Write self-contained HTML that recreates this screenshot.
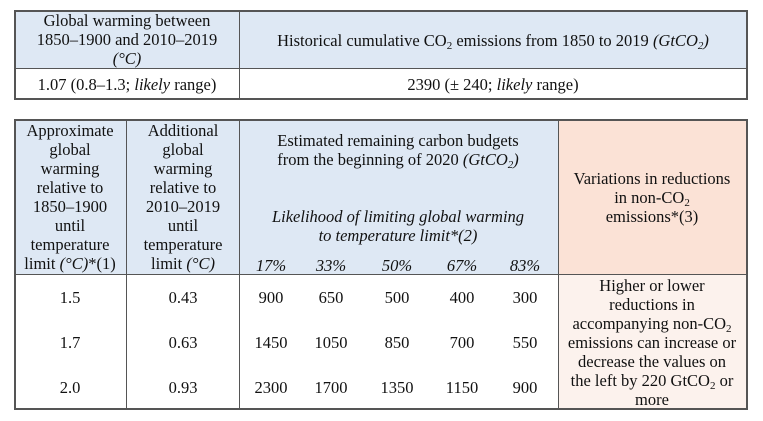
<!DOCTYPE html>
<html><head><meta charset="utf-8"><style>
body{margin:0;width:763px;height:421px;background:#fff;position:relative;font-family:"Liberation Serif",serif;font-size:16.5px;color:#111;overflow:hidden}
.b{position:absolute;box-sizing:border-box}
.t{position:absolute;text-align:center;line-height:19px;white-space:nowrap;transform:translateX(-50%)}
i{font-style:italic}
sub{font-size:11px;line-height:0;vertical-align:-3px}
.l{position:absolute;background:#555}
</style></head><body>
<div class="b" style="left:14px;top:10px;width:225px;height:58px;background:#dee8f4"></div>
<div class="b" style="left:239px;top:10px;width:508px;height:58px;background:#dee8f4"></div>
<div class="l" style="left:14px;top:10px;width:733px;height:1.5px"></div>
<div class="l" style="left:14px;top:68px;width:733px;height:1px"></div>
<div class="l" style="left:14px;top:98px;width:733px;height:1.5px"></div>
<div class="l" style="left:14px;top:10px;width:1.5px;height:90px"></div>
<div class="l" style="left:239px;top:10px;width:1px;height:90px"></div>
<div class="l" style="left:746px;top:10px;width:1.5px;height:90px"></div>
<div class="t" style="left:127px;top:11px">Global warming between<br>1850–1900 and 2010–2019<br><i>(°C)</i></div>
<div class="t" style="left:493px;top:31px">Historical cumulative CO<sub>2</sub> emissions from 1850 to 2019 <i>(GtCO<sub>2</sub>)</i></div>
<div class="t" style="left:127px;top:75px">1.07 (0.8–1.3; <i>likely</i> range)</div>
<div class="t" style="left:493px;top:75px">2390 (± 240; <i>likely</i> range)</div>

<div class="b" style="left:14px;top:119px;width:544px;height:155px;background:#dee8f4"></div>
<div class="b" style="left:558px;top:119px;width:189px;height:155px;background:#fbe2d6"></div>
<div class="b" style="left:558px;top:274px;width:189px;height:135px;background:#fcf2ed"></div>
<div class="l" style="left:14px;top:119px;width:733px;height:1.5px"></div>
<div class="l" style="left:14px;top:274px;width:733px;height:1px"></div>
<div class="l" style="left:14px;top:408px;width:733px;height:1.5px"></div>
<div class="l" style="left:14px;top:119px;width:1.5px;height:291px"></div>
<div class="l" style="left:126px;top:119px;width:1px;height:291px"></div>
<div class="l" style="left:239px;top:119px;width:1px;height:291px"></div>
<div class="l" style="left:558px;top:119px;width:1px;height:291px"></div>
<div class="l" style="left:746px;top:119px;width:1.5px;height:291px"></div>

<div class="t" style="left:70px;top:121px">Approximate<br>global<br>warming<br>relative to<br>1850–1900<br>until<br>temperature<br>limit <i>(°C)</i>*(1)</div>
<div class="t" style="left:183px;top:121px">Additional<br>global<br>warming<br>relative to<br>2010–2019<br>until<br>temperature<br>limit <i>(°C)</i></div>
<div class="t" style="left:398px;top:131px">Estimated remaining carbon budgets<br>from the beginning of 2020 <i>(GtCO<sub>2</sub>)</i></div>
<div class="t" style="left:398px;top:207px"><i>Likelihood of limiting global warming<br>to temperature limit*(2)</i></div>
<div class="t" style="left:652px;top:169px">Variations in reductions<br>in non-CO<sub>2</sub><br>emissions*(3)</div>
<div class="t" style="left:652px;top:276px">Higher or lower<br>reductions in<br>accompanying non-CO<sub>2</sub><br>emissions can increase or<br>decrease the values on<br>the left by 220 GtCO<sub>2</sub> or<br>more</div>
<div id="cells"></div>
<script>
const pcts=["17%","33%","50%","67%","83%"];
const pctX=[271,331,397,462,525];
const temps=["1.5","1.7","2.0"];
const addl=["0.43","0.63","0.93"];
const budgets=[[900,650,500,400,300],[1450,1050,850,700,550],[2300,1700,1350,1150,900]];
const rowY=[288,333,378];
const c=document.getElementById('cells');
function mk(txt,x,y,it){const d=document.createElement('div');d.className='t';d.style.left=x+'px';d.style.top=y+'px';d.innerHTML=it?'<i>'+txt+'</i>':txt;c.appendChild(d);return d;}
pcts.forEach((p,i)=>{const d=mk(p,pctX[i],256,true);

});
temps.forEach((t,r)=>{
const a=mk(t,70,rowY[r]);


const b=mk(addl[r],183,rowY[r]);


budgets[r].forEach((v,i)=>{const d=mk(String(v),pctX[i],rowY[r]);

});
});
</script>
</body></html>
